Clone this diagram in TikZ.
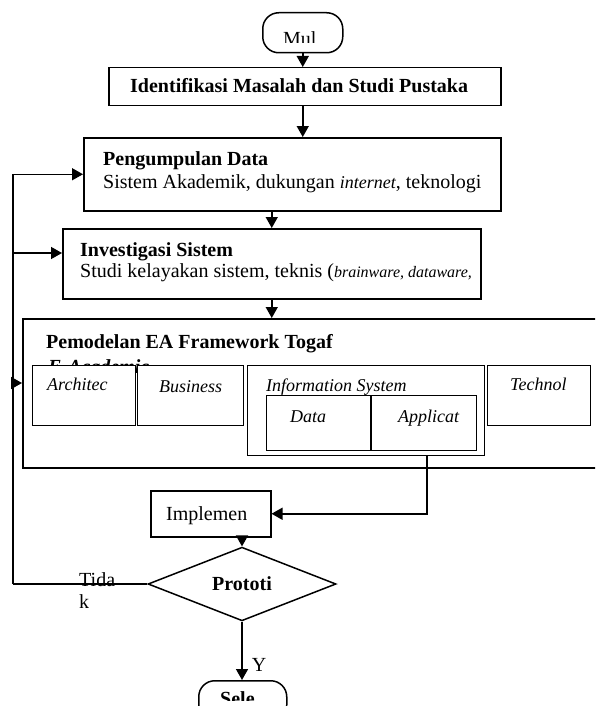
\documentclass[tikz,border=0pt]{standalone}
\usepackage{fontspec}
\setmainfont{Liberation Serif}
\usetikzlibrary{arrows.meta, positioning, calc, shapes.geometric}

\begin{document}
\begin{tikzpicture}[
		x=1pt, y=-1pt,
		box/.style={draw, line width=1.5pt, fill=white, anchor=north west, inner sep=0pt},
		subbox/.style={draw, line width=1.3pt, fill=white, anchor=north west, inner sep=0pt},
		pill/.style={draw, line width=1.5pt, fill=white, rounded corners=16pt, anchor=north west, inner sep=0pt},
		txt/.style={anchor=base west, inner sep=0pt, font=\fontsize{20}{22}\selectfont},
		btxt/.style={txt, font=\fontsize{20}{22}\selectfont\bfseries},
		itxt/.style={txt, font=\fontsize{18}{20}\selectfont\itshape},
		arr/.style={-{Triangle[length=11pt,width=12pt]}, line width=1.5pt},
		ln/.style={line width=1.5pt}
		]
		\clip (0,0) rectangle (595,706);
		
		% Start and the first steps
		\node[pill, minimum width=80pt, minimum height=40pt] (mulai) at (262,12) {};
		\begin{scope}
			\clip (262,12) rectangle (342,43);
			\node[txt] (mulaiT) at (283,46) {Mul};
		\end{scope}
		\node[box, minimum width=392pt, minimum height=38pt] (ident) at (108,67) {};
		\node[btxt] (identT) at (130,93) {Identifikasi Masalah dan Studi Pustaka};
		
		\node[box, minimum width=417pt, minimum height=73pt] (kumpul) at (83,137) {};
		\node[btxt] (kumpulT) at (103,165) {Pengumpulan Data};
		\node[txt] (kumpulB) at (103,188) {Sistem Akademik, dukungan {\fontsize{18}{20}\selectfont\itshape internet}, teknologi};
		
		\node[box, minimum width=418pt, minimum height=70pt] (invest) at (62,228) {};
		\node[btxt] (investT) at (80,256) {Investigasi Sistem};
		\node[txt] (investB) at (80,277) {Studi kelayakan sistem, teknis ({\fontsize{16}{20}\selectfont\itshape brainware, dataware,}};
		
		% Togaf block, runs off the right edge
		\node[box, minimum width=600pt, minimum height=149pt] (model) at (22,318) {};
		\node[btxt] (modelT) at (46,348) {Pemodelan EA Framework Togaf};
		\node[btxt, font=\fontsize{20}{22}\selectfont\bfseries\itshape] (modelB) at (48,373) {E-Academic};
		
		\node[subbox, minimum width=103pt, minimum height=60pt] (arch) at (32,365) {};
		\node[subbox, minimum width=106pt, minimum height=60pt] (bisnis) at (137,365) {};
		\node[subbox, minimum width=237pt, minimum height=90pt] (info) at (247,365) {};
		\node[subbox, minimum width=103pt, minimum height=60pt] (tekno) at (487,365) {};
		\node[itxt] (archT) at (47,390) {Architec};
		\node[itxt] (bisnisT) at (159,392) {Business};
		\node[itxt] (infoT) at (266,391) {Information System};
		\node[itxt] (teknoT) at (510,390) {Technol};
		\node[subbox, minimum width=104pt, minimum height=55pt] (data) at (266,395) {};
		\node[subbox, minimum width=105pt, minimum height=55pt] (aplik) at (371,395) {};
		\node[itxt] (dataT) at (290,422) {Data};
		\node[itxt] (aplikT) at (398,422) {Applicat};
		
		% Implementation, test and end
		\node[box, minimum width=120pt, minimum height=46pt] (impl) at (150,490) {};
		\node[txt] (implT) at (166,520) {Implemen};
		\node[diamond, draw, line width=1.5pt, fill=white, inner sep=0pt, minimum width=188pt, minimum height=72pt, font=\fontsize{20}{22}\selectfont\bfseries] (proto) at (242,584) {Prototi};
		\node[pill, minimum width=88pt, minimum height=40pt] (selesai) at (198,680) {};
		\begin{scope}
			\clip (198,680) rectangle (286,700);
			\node[btxt] (selesaiT) at (220,705) {Sele};
		\end{scope}
		
		% Main flow
		\draw[arr] (mulai.south) -- (mulai.south |- ident.north);
		\draw[arr] (mulai.south |- ident.south) -- (mulai.south |- kumpul.north);
		\draw[arr] (invest.north |- kumpul.south) -- (invest.north);
		\draw[arr] (invest.south) -- (invest.south |- model.north);
		\coordinate (turn) at (427,515);
		\draw[arr] (info.south -| turn) |- (impl.east);
		\draw[arr] (impl.south -| proto.north) -- (proto.north);
		\draw[arr] (proto.south) -- (proto.south |- selesai.north) node[txt, pos=0.75, xshift=9pt, yshift=-6pt] (ya) {Y};
		
		% Loop back when the prototype fails
		\coordinate (back) at (13,584);
		\coordinate (invIn) at ($(invest.north west)+(0,25)$);
		\coordinate (modIn) at ($(model.north west)+(0,65)$);
		\draw[ln] (proto.west) -- (back);
		\draw[arr] (back) |- (kumpul.west);
		\draw[arr] (back |- invIn) -- (invIn);
		\draw[arr] (back |- modIn) -- (modIn);
		\node[txt, anchor=north west, align=left] (tidak) at (79,572) {Tida\\k};
	\end{tikzpicture}
\end{document}
